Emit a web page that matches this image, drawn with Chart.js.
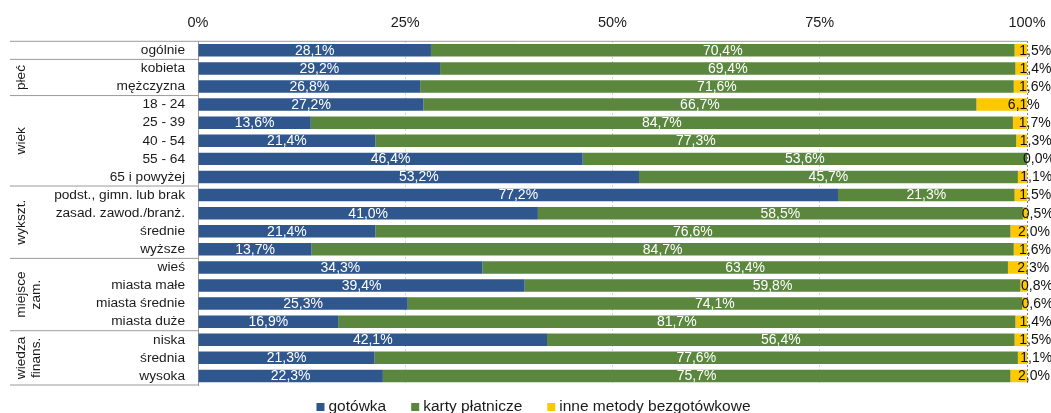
<!DOCTYPE html>
<html lang="pl">
<head>
  <meta charset="UTF-8">
  <title>Metody płatności</title>
  <script src="https://cdn.jsdelivr.net/npm/chart.js"></script>
  <style>
    body { margin: 0; background: #fff; }
    .chart-container { position: relative; width: 1051px; height: 413px; }
  </style>
</head>
<body>
  <div class="chart-container">
    <canvas id="payChart"></canvas>
  </div>

  <script>
    // categories (rows, top to bottom)
    const categories = [
      'ogólnie', 'kobieta', 'mężczyzna',
      '18 - 24', '25 - 39', '40 - 54', '55 - 64', '65 i powyżej',
      'podst., gimn. lub brak', 'zasad. zawod./branż.', 'średnie', 'wyższe',
      'wieś', 'miasta małe', 'miasta średnie', 'miasta duże',
      'niska', 'średnia', 'wysoka'
    ];
    // series values (%)
    const cash  = [28.1, 29.2, 26.8, 27.2, 13.6, 21.4, 46.4, 53.2, 77.2, 41.0, 21.4, 13.7, 34.3, 39.4, 25.3, 16.9, 42.1, 21.3, 22.3];
    const cards = [70.4, 69.4, 71.6, 66.7, 84.7, 77.3, 53.6, 45.7, 21.3, 58.5, 76.6, 84.7, 63.4, 59.8, 74.1, 81.7, 56.4, 77.6, 75.7];
    const other = [1.5, 1.4, 1.6, 6.1, 1.7, 1.3, 0.0, 1.1, 1.5, 0.5, 2.0, 1.6, 2.3, 0.8, 0.6, 1.4, 1.5, 1.1, 2.0];
    const seriesNames = ['gotówka', 'karty płatnicze', 'inne metody bezgotówkowe'];
    // row groups (index ranges into categories)
    const groups = [
      { label: ['płeć'], from: 1, to: 2 },
      { label: ['wiek'], from: 3, to: 7 },
      { label: ['wykszt.'], from: 8, to: 11 },
      { label: ['miejsce', 'zam.'], from: 12, to: 15 },
      { label: ['wiedza', 'finans.'], from: 16, to: 18 }
    ];
    const xTicks = [0, 25, 50, 75, 100];

    const FONT = '"Liberation Sans", Arial, sans-serif';
    const colors = ['#2F568D', '#5A873D', '#FFC800'];
    const lineColor = '#9a9a9a';

    const fmt = v => v.toFixed(1).replace('.', ',') + '%';

    // value labels inside / next to the segments
    const valueLabels = {
      id: 'valueLabels',
      afterDatasetsDraw(chart) {
        const ctx = chart.ctx;
        ctx.save();
        ctx.font = '14px ' + FONT;
        ctx.textBaseline = 'middle';
        ctx.textAlign = 'center';
        chart.data.datasets.forEach((ds, di) => {
          const meta = chart.getDatasetMeta(di);
          meta.data.forEach((bar, i) => {
            const p = bar.getProps(['x', 'y', 'base'], true);
            const left = Math.min(p.x, p.base), right = Math.max(p.x, p.base);
            let cx;
            if (di < 2) {
              ctx.fillStyle = '#ffffff';
              cx = (left + right) / 2;
            } else {
              ctx.fillStyle = '#111111';
              cx = 0.3 * left + 0.7 * right + 12;
            }
            ctx.fillText(fmt(ds.data[i]), cx, p.y + 0.5);
          });
        });
        ctx.restore();
      }
    };

    // table lines + rotated group labels on the left
    const rowTable = {
      id: 'rowTable',
      afterDraw(chart) {
        const ctx = chart.ctx;
        const area = chart.chartArea;
        const y = chart.scales.y;
        const mid = i => (y.getPixelForValue(i) + y.getPixelForValue(i + 1)) / 2;
        ctx.save();
        ctx.strokeStyle = lineColor;
        ctx.lineWidth = 1;
        ctx.beginPath();
        ctx.moveTo(10, area.top);
        ctx.lineTo(area.right, area.top);
        const cuts = [0].concat(groups.map(g => g.to));
        cuts.forEach(c => {
          const yy = c === categories.length - 1 ? area.bottom : mid(c);
          ctx.moveTo(10, yy);
          ctx.lineTo(area.left, yy);
        });
        ctx.stroke();

        ctx.fillStyle = '#1a1a1a';
        ctx.font = '13.7px ' + FONT;
        ctx.textAlign = 'center';
        ctx.textBaseline = 'middle';
        groups.forEach(g => {
          const cy = (y.getPixelForValue(g.from) + y.getPixelForValue(g.to)) / 2;
          g.label.forEach((line, li) => {
            ctx.save();
            ctx.translate(21 + li * 15, cy);
            ctx.rotate(-Math.PI / 2);
            ctx.fillText(line, 0, 0);
            ctx.restore();
          });
        });
        ctx.restore();
      }
    };

    // legend at the bottom
    const bottomLegend = {
      id: 'bottomLegend',
      afterDraw(chart) {
        const ctx = chart.ctx;
        ctx.save();
        ctx.font = '15.5px ' + FONT;
        const box = 8, gap = 4, spacing = 25;
        const widths = seriesNames.map(n => ctx.measureText(n).width);
        const total = widths.reduce((a, w) => a + box + gap + w, 0) + spacing * (seriesNames.length - 1);
        let x = (chart.width - total) / 2 + 8;
        const base = 411;
        ctx.textBaseline = 'alphabetic';
        ctx.textAlign = 'left';
        seriesNames.forEach((n, i) => {
          ctx.fillStyle = colors[i];
          ctx.fillRect(x, base - box, box, box);
          ctx.fillStyle = '#1a1a1a';
          ctx.fillText(n, x + box + gap, base);
          x += box + gap + widths[i] + spacing;
        });
        ctx.restore();
      }
    };

    const ctx = document.getElementById('payChart').getContext('2d');
    new Chart(ctx, {
      type: 'bar',
      data: {
        labels: categories,
        datasets: [cash, cards, other].map((d, i) => ({
          label: seriesNames[i],
          data: d,
          backgroundColor: colors[i],
          borderWidth: 0,
          barPercentage: 0.69,
          categoryPercentage: 1
        }))
      },
      options: {
        indexAxis: 'y',
        responsive: true,
        maintainAspectRatio: false,
        animation: false,
        layout: { padding: { top: 0, right: 24, bottom: 28, left: 0 } },
        plugins: {
          legend: { display: false },
          tooltip: { enabled: false }
        },
        scales: {
          x: {
            position: 'top',
            stacked: true,
            min: 0,
            max: 100,
            afterBuildTicks: s => { s.ticks = xTicks.map(v => ({ value: v })); },
            afterFit: s => { s.height = 41.3; s.paddingLeft = 0; s.paddingRight = 0; },
            ticks: {
              padding: 10,
              color: '#1a1a1a',
              font: { family: FONT, size: 14.5 },
              callback: v => v + '%'
            },
            grid: {
              drawTicks: false,
              color: c => c.tick && c.tick.value === 100 ? '#808080' : (c.tick && c.tick.value === 0 ? 'rgba(0,0,0,0)' : '#d4d4d4')
            },
            border: { display: false, dash: [2, 2] }
          },
          y: {
            stacked: true,
            afterFit: s => { s.width = 198; },
            ticks: {
              autoSkip: false,
              padding: 13,
              color: '#1a1a1a',
              font: { family: FONT, size: 13.7 }
            },
            grid: { display: false, drawTicks: false },
            border: { display: true, color: lineColor, width: 1 }
          }
        }
      },
      plugins: [valueLabels, rowTable, bottomLegend]
    });
  </script>
</body>
</html>
